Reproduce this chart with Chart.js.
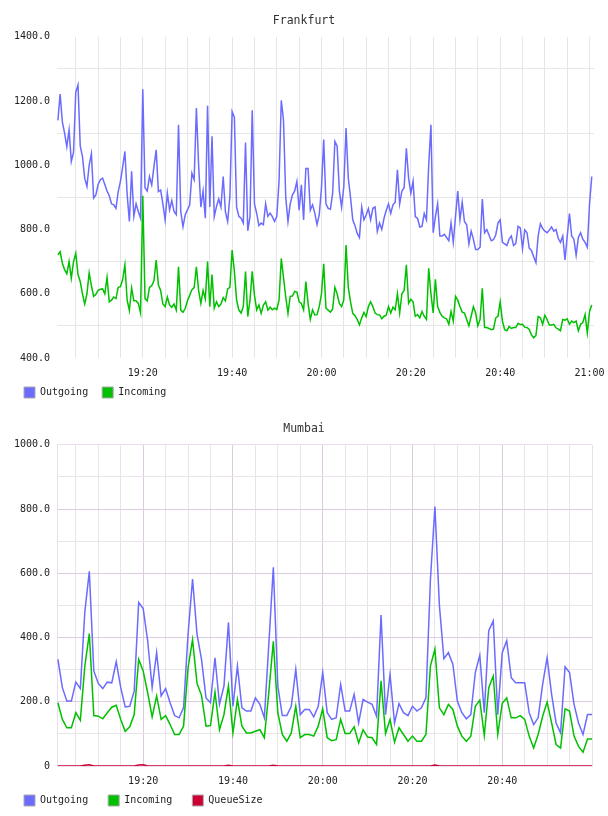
<!DOCTYPE html>
<html>
<head>
<meta charset="utf-8">
<title>Frankfurt / Mumbai</title>
<script src="https://cdn.jsdelivr.net/npm/chart.js@4.4.1/dist/chart.umd.min.js"></script>
<style>
  body { margin: 0; background: #fff; }
  .box { position: relative; width: 608px; height: 408px; }
</style>
</head>
<body>
<div class="box"><canvas id="frankfurtChart"></canvas></div>
<div class="box"><canvas id="mumbaiChart"></canvas></div>
<script>
// Frankfurt: one sample every 30 seconds, starting 19:01
var frankfurtStart = '19:01';
var frankfurtStepSec = 30;
var frankfurtOutgoing = [
  1140, 1222, 1135, 1100, 1058, 1110, 1012, 1040, 1228, 1250,
  1060, 1027, 960, 934, 1000, 1036, 898, 908, 940, 955,
  960, 940, 920, 905, 880, 877, 866, 918, 950, 995,
  1043, 910, 825, 981, 841, 880, 856, 835, 1237, 930,
  920, 965, 939, 996, 1048, 918, 923, 880, 830, 913,
  861, 890, 856, 846, 1126, 856, 809, 846, 861, 877,
  975, 955, 1178, 1000, 870, 920, 835, 1185, 870, 1090,
  840, 872, 895, 870, 965, 855, 825, 903, 1167, 1150,
  870, 841, 835, 820, 1071, 796, 840, 1171, 880, 850,
  812, 820, 815, 880, 841, 851, 840, 825, 841, 950,
  1202, 1140, 900, 825, 880, 908, 920, 950, 860, 939,
  830, 990, 990, 860, 877, 851, 815, 846, 930, 1080,
  880, 866, 863, 913, 1074, 1060, 920, 870, 934, 1116,
  960, 900, 830, 812, 788, 775, 870, 830, 845, 865,
  830, 866, 870, 794, 820, 800, 835, 860, 880, 850,
  877, 885, 986, 880, 920, 930, 1053, 960, 913, 950,
  840, 835, 808, 810, 850, 830, 1000, 1126, 790, 840,
  880, 780, 780, 785, 775, 765, 820, 760, 840, 920,
  830, 885, 825, 815, 755, 795, 770, 738, 738, 745,
  895, 790, 800, 783, 765, 768, 783, 820, 830, 760,
  755, 750, 770, 780, 750, 757, 810, 805, 740, 799,
  790, 742, 735, 715, 697, 780, 818, 803, 795, 790,
  798, 808, 795, 800, 772, 760, 780, 705, 778, 850,
  780, 770, 720, 775, 790, 770, 760, 745, 880, 965
];
var frankfurtIncoming = [
  721, 731, 695, 675, 662, 700, 648, 700, 726, 660,
  638, 600, 568, 600, 665, 625, 592, 598, 611, 614,
  615, 600, 651, 575, 580, 590, 585, 620, 622, 645,
  690, 580, 548, 618, 578, 578, 570, 540, 905, 585,
  578, 620, 625, 640, 705, 627, 610, 568, 560, 590,
  565, 558, 568, 549, 684, 549, 542, 554, 578, 595,
  613, 619, 684, 610, 570, 610, 584, 700, 560, 660,
  555, 575, 560, 568, 588, 578, 615, 620, 736, 670,
  580, 550, 540, 560, 669, 529, 580, 670, 595, 550,
  565, 539, 565, 575, 549, 558, 550, 555, 551, 580,
  710, 650, 590, 539, 592, 593, 607, 605, 575, 570,
  550, 638, 570, 520, 550, 534, 535, 560, 600, 693,
  555, 549, 543, 553, 620, 600, 570, 560, 581, 752,
  620, 575, 539, 532, 520, 503, 525, 542, 529, 560,
  575, 560, 540, 535, 534, 522, 530, 533, 560, 540,
  558, 550, 600, 540, 600, 610, 690, 570, 583, 575,
  530, 535, 525, 545, 530, 520, 679, 600, 540, 645,
  560, 542, 530, 525, 522, 505, 545, 515, 592, 580,
  560, 543, 540, 520, 500, 530, 560, 540, 500, 520,
  617, 495, 495, 492, 488, 490, 525, 530, 575, 515,
  488, 485, 498, 492, 495, 495, 508, 504, 505, 496,
  495, 489, 472, 463, 470, 529, 525, 505, 533, 520,
  503, 503, 505, 494, 490, 485, 520, 518, 522, 505,
  515, 510, 515, 485, 505, 510, 535, 478, 545, 565
];
var frankfurtXLabels = ['19:20', '19:40', '20:00', '20:20', '20:40', '21:00'];
var frankfurtYTicks = [400, 600, 800, 1000, 1200, 1400];
var frankfurtYLabels = ['400.0', '600.0', '800.0', '1000.0', '1200.0', '1400.0'];

// Mumbai: one sample per minute, starting 19:01
var mumbaiStart = '19:01';
var mumbaiStepSec = 60;
var mumbaiOutgoing = [
  332, 244, 202, 202, 261, 241, 480, 606, 296, 257,
  241, 261, 259, 325, 244, 184, 186, 233, 509, 490,
  390, 244, 353, 218, 241, 197, 157, 150, 181, 410,
  582, 410, 332, 212, 197, 337, 192, 249, 447, 186,
  311, 181, 171, 171, 212, 192, 150, 380, 619, 249,
  157, 157, 186, 301, 160, 176, 176, 153, 186, 291,
  166, 145, 150, 254, 171, 171, 223, 134, 207, 199,
  192, 155, 470, 160, 285, 134, 194, 166, 157, 186,
  171, 181, 212, 580, 808, 500, 334, 353, 317, 202,
  166, 147, 160, 291, 345, 166, 421, 452, 160, 353,
  390, 275, 259, 259, 259, 166, 129, 150, 254, 337,
  223, 134, 103, 309, 291, 192, 134, 98, 160, 160
];
var mumbaiIncoming = [
  197, 145, 119, 119, 166, 142, 311, 412, 157, 155,
  147, 166, 183, 189, 145, 108, 122, 160, 332, 296,
  228, 153, 218, 145, 157, 129, 98, 98, 124, 306,
  393, 257, 220, 124, 126, 230, 113, 160, 249, 103,
  207, 124, 103, 103, 108, 113, 88, 230, 388, 166,
  98, 77, 103, 186, 88, 98, 98, 93, 124, 178,
  88, 79, 82, 145, 101, 101, 122, 72, 113, 90,
  88, 67, 265, 101, 145, 74, 119, 98, 77, 93,
  77, 77, 98, 311, 364, 181, 160, 192, 176, 124,
  93, 77, 93, 186, 205, 95, 244, 280, 98, 195,
  212, 150, 150, 157, 145, 93, 56, 98, 155, 199,
  134, 67, 56, 178, 171, 93, 61, 43, 84, 84
];
var mumbaiQueueSize = [
  0, 0, 0, 0, 0, 0, 2, 4, 0, 0,
  0, 0, 0, 0, 0, 0, 0, 0, 3, 4,
  0, 0, 0, 0, 0, 0, 0, 0, 0, 0,
  0, 0, 0, 0, 0, 0, 0, 0, 2, 0,
  0, 0, 0, 0, 0, 0, 0, 0, 2, 0,
  0, 0, 0, 0, 0, 0, 0, 0, 0, 0,
  0, 0, 0, 0, 0, 0, 0, 0, 0, 0,
  0, 0, 0, 0, 0, 0, 0, 0, 0, 0,
  0, 0, 0, 0, 3, 0, 0, 0, 0, 0,
  0, 0, 0, 0, 0, 0, 0, 0, 0, 0,
  0, 0, 0, 0, 0, 0, 0, 0, 0, 0,
  0, 0, 0, 0, 0, 0, 0, 0, 0, 0
];
var mumbaiXLabels = ['19:20', '19:40', '20:00', '20:20', '20:40'];
var mumbaiYTicks = [0, 200, 400, 600, 800, 1000];
var mumbaiYLabels = ['0', '200.0', '400.0', '600.0', '800.0', '1000.0'];

var seriesColors = { Outgoing: '#6b6bff', Incoming: '#00c000', QueueSize: '#cc0033' };

Chart.defaults.font.family = "'DejaVu Sans Mono', monospace";
Chart.defaults.font.size = 10;
Chart.defaults.color = '#333';

function toMinutes(hhmm) {
  var p = hhmm.split(':');
  return parseInt(p[0], 10) * 60 + parseInt(p[1], 10);
}

function fmtTime(m) {
  var h = Math.floor(m / 60);
  var mm = Math.round(m - h * 60);
  return h + ':' + (mm < 10 ? '0' : '') + mm;
}

function toPoints(start, stepSec, values) {
  var t0 = toMinutes(start);
  return values.map(function (v, i) {
    return { x: t0 + i * stepSec / 60, y: v };
  });
}

// center the title over the whole canvas, like the original page
var titleSpan = {
  id: 'titleSpan',
  afterLayout: function (chart) {
    if (chart.titleBlock) {
      chart.titleBlock.left = 0;
      chart.titleBlock.right = chart.width;
    }
  }
};

function makeChart(id, opt) {
  var datasets = opt.series.map(function (s, i) {
    return {
      label: s.name,
      data: toPoints(opt.start, opt.stepSec, s.values),
      borderColor: seriesColors[s.name],
      backgroundColor: seriesColors[s.name],
      borderWidth: 1.5,
      pointRadius: 0,
      tension: 0,
      fill: false,
      order: opt.series.length - i
    };
  });

  return new Chart(document.getElementById(id).getContext('2d'), {
    type: 'line',
    data: { datasets: datasets },
    plugins: [titleSpan],
    options: {
      responsive: true,
      maintainAspectRatio: false,
      animation: false,
      layout: { padding: { left: opt.padLeft, right: opt.padRight, top: 0, bottom: 0 } },
      plugins: {
        title: {
          display: true,
          text: opt.title,
          color: '#333',
          font: { size: 11.5, weight: 'normal' },
          padding: { top: 14, bottom: 9 }
        },
        legend: {
          position: 'bottom',
          align: 'start',
          labels: {
            boxWidth: 11,
            boxHeight: 11,
            padding: opt.legendPad,
            color: '#222',
            sort: function (a, b) { return a.datasetIndex - b.datasetIndex; },
            generateLabels: function (chart) {
              var items = Chart.defaults.plugins.legend.labels.generateLabels(chart);
              items.forEach(function (it) {
                it.strokeStyle = '#aaaaaa';
                it.lineWidth = 1;
              });
              return items;
            }
          }
        },
        tooltip: { enabled: false }
      },
      scales: {
        x: {
          type: 'linear',
          min: opt.xMin,
          max: opt.xMax,
          afterBuildTicks: function (scale) {
            var ticks = [];
            for (var v = Math.ceil(scale.min / 5) * 5; v <= scale.max + 1e-9; v += 5) {
              ticks.push({ value: v });
            }
            scale.ticks = ticks;
          },
          afterFit: function (scale) {
            scale.height = opt.xAxisHeight;
            scale.paddingLeft = 0;
            scale.paddingRight = 0;
            // the axis box is shorter than its labels; do not clip them
            scale._computeLabelArea = function () { return null; };
          },
          ticks: {
            autoSkip: false,
            maxRotation: 0,
            minRotation: 0,
            padding: 9,
            color: '#222',
            callback: function (value) {
              var t = fmtTime(value);
              return opt.xLabels.indexOf(t) >= 0 ? t : '';
            }
          },
          grid: { drawTicks: false, color: opt.xGridColor, lineWidth: 1 },
          border: opt.border
        },
        y: {
          min: opt.yMin,
          max: opt.yMax,
          afterFit: function (scale) { scale.width = opt.yAxisWidth; },
          ticks: {
            stepSize: 100,
            autoSkip: false,
            padding: 7,
            color: '#222',
            callback: function (value) {
              var k = opt.yTicks.indexOf(value);
              return k >= 0 ? opt.yLabels[k] : '';
            }
          },
          grid: { drawTicks: false, color: opt.yGridColor, lineWidth: 1 },
          border: opt.border
        }
      }
    }
  });
}

var plainGrid = '#e6e6e6';
var lilacGrid = '#dccadf';
var softGrid = '#e8e4e8';
var edgeLine = '#ecdcf0';

makeChart('frankfurtChart', {
  title: 'Frankfurt',
  start: frankfurtStart,
  stepSec: frankfurtStepSec,
  series: [
    { name: 'Outgoing', values: frankfurtOutgoing },
    { name: 'Incoming', values: frankfurtIncoming }
  ],
  xMin: 1140.8, xMax: 1261,
  yMin: 400, yMax: 1400,
  xLabels: frankfurtXLabels,
  yTicks: frankfurtYTicks,
  yLabels: frankfurtYLabels,
  padLeft: 10, padRight: 14,
  legendPad: 14,
  xAxisHeight: 15,
  yAxisWidth: 47,
  border: { display: false },
  xGridColor: function () { return plainGrid; },
  yGridColor: function (ctx) {
    return ctx.tick.value % 200 === 100 ? plainGrid : 'rgba(0,0,0,0)';
  }
});

makeChart('mumbaiChart', {
  title: 'Mumbai',
  start: mumbaiStart,
  stepSec: mumbaiStepSec,
  series: [
    { name: 'Outgoing', values: mumbaiOutgoing },
    { name: 'Incoming', values: mumbaiIncoming },
    { name: 'QueueSize', values: mumbaiQueueSize }
  ],
  xMin: 1140.8, xMax: 1260,
  yMin: 0, yMax: 1000,
  xLabels: mumbaiXLabels,
  yTicks: mumbaiYTicks,
  yLabels: mumbaiYLabels,
  padLeft: 4, padRight: 16,
  legendPad: 20,
  xAxisHeight: 9,
  yAxisWidth: 53,
  border: { display: true, color: edgeLine, width: 1 },
  xGridColor: function (ctx) {
    var v = ctx.tick.value;
    if (v >= 1260) return edgeLine;
    return v % 20 === 0 ? lilacGrid : softGrid;
  },
  yGridColor: function (ctx) {
    var v = ctx.tick.value;
    if (v >= 1000) return edgeLine;
    return v % 200 === 0 ? lilacGrid : softGrid;
  }
});
</script>
</body>
</html>
